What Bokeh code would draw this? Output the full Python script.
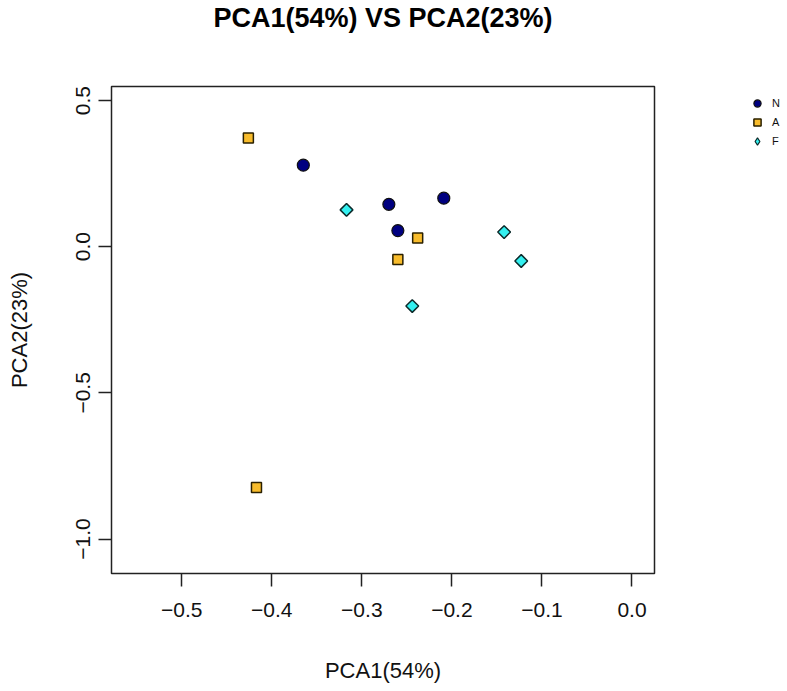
import numpy as np
from bokeh.plotting import figure
from bokeh.models import Range1d, FixedTicker, Legend, LegendItem, Title
from bokeh.embed import file_html
from bokeh.resources import INLINE

# data
n_x = [-0.365, -0.270, -0.260, -0.209]
n_y = [0.279, 0.145, 0.055, 0.166]
a_x = [-0.426, -0.238, -0.260, -0.417]
a_y = [0.372, 0.030, -0.044, -0.824]
f_x = [-0.317, -0.244, -0.142, -0.123]
f_y = [0.126, -0.203, 0.050, -0.049]
group_names = ["N", "A", "F"]
x_ticks = [-0.5, -0.4, -0.3, -0.2, -0.1, 0.0]
x_tick_labels = ["\u22120.5", "\u22120.4", "\u22120.3", "\u22120.2", "\u22120.1", "0.0"]
y_ticks = [0.5, 0.0, -0.5, -1.0]
y_tick_labels = ["0.5", "0.0", "\u22120.5", "\u22121.0"]
title_text = "PCA1(54%) VS PCA2(23%)"

FONT = "Liberation Sans"

p = figure(frame_width=543, frame_height=487, title=None,
           x_range=Range1d(-0.578, 0.025), y_range=Range1d(-1.118, 0.548),
           output_backend="svg", toolbar_location=None,
           min_border_left=111, min_border_right=125,
           min_border_top=86, min_border_bottom=110,
           background_fill_color="white", border_fill_color="white")

# spacer panel between frame and title
p.add_layout(Title(text=" ", text_font_size="2px", standoff=48), "above")
p.add_layout(Title(text=title_text, align="center", vertical_align="top",
                   text_font=FONT, text_font_size="27px", text_font_style="bold",
                   text_color="black", standoff=0), "above")

p.outline_line_color = "#222222"
p.outline_line_width = 1.5
p.xgrid.visible = False
p.ygrid.visible = False

for ax in (p.xaxis[0], p.yaxis[0]):
    ax.axis_line_color = None
    ax.major_tick_in = 0
    ax.major_tick_out = 13
    ax.major_tick_line_color = "#222222"
    ax.major_tick_line_width = 1.5
    ax.minor_tick_line_color = None
    ax.major_label_text_font = FONT
    ax.major_label_text_font_size = "21px"
    ax.major_label_text_color = "#111111"
    ax.axis_label_text_font = FONT
    ax.axis_label_text_font_size = "22px"
    ax.axis_label_text_font_style = "normal"
    ax.axis_label_text_color = "#111111"

p.xaxis.ticker = FixedTicker(ticks=x_ticks)
p.xaxis.major_label_overrides = dict(zip(x_ticks, x_tick_labels))
p.yaxis.ticker = FixedTicker(ticks=y_ticks)
p.yaxis.major_label_overrides = dict(zip(y_ticks, y_tick_labels))
p.yaxis.major_label_orientation = "vertical"
p.xaxis.axis_label = "PCA1(54%)"
p.yaxis.axis_label = "PCA2(23%)"
p.xaxis.major_label_standoff = 16
p.yaxis.major_label_standoff = 8
p.xaxis.axis_label_standoff = 38
p.yaxis.axis_label_standoff = 42

N_FILL, A_FILL, F_FILL = "#000080", "#F8BC2C", "#33F0F0"

rn = p.scatter(n_x, n_y, marker="circle", size=12, fill_color=N_FILL,
               line_color="#111111", line_width=1.2)
ra = p.scatter(a_x, a_y, marker="square", size=10, fill_color=A_FILL,
               line_color="#2a2000", line_width=1.5)
rf = p.scatter(f_x, f_y, marker="square", size=9, angle=np.pi / 4,
               fill_color=F_FILL, line_color="#0b2a2a", line_width=1.5)
# legend-only proxy (a single NaN point, draws nothing in the plot) so the key shows a diamond
rf_key = p.scatter(x=np.array([np.nan]), y=np.array([np.nan]), marker="diamond",
                   fill_color=F_FILL, line_color="#0b2a2a", line_width=1.2)

legend = Legend(items=[LegendItem(label=group_names[0], renderers=[rn]),
                       LegendItem(label=group_names[1], renderers=[ra]),
                       LegendItem(label=group_names[2], renderers=[rf_key])],
                location=(94, 423), border_line_color=None,
                background_fill_alpha=0, padding=0, margin=0, spacing=1,
                glyph_width=18, glyph_height=18, label_standoff=6,
                label_text_font=FONT, label_text_font_size="11px",
                label_text_color="#111111", label_height=18)
p.add_layout(legend, "right")

open("out.html", "w").write(file_html(p, INLINE))
